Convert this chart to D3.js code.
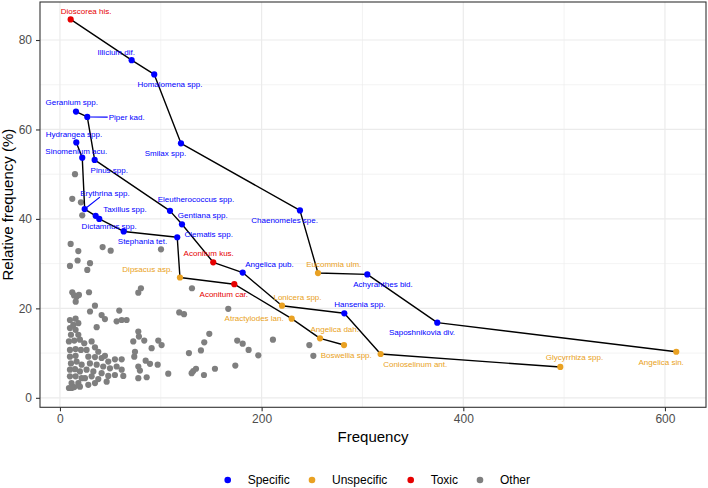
<!DOCTYPE html>
<html>
<head>
<meta charset="utf-8">
<script src="https://cdn.jsdelivr.net/npm/d3@7"></script>
<style>
  html, body { margin: 0; padding: 0; background: #fff; }
  svg { display: block; font-family: "Liberation Sans", Arial, Helvetica, sans-serif; }
</style>
</head>
<body>
<svg id="chart" width="708" height="488"></svg>
<script>
// ---------------- DATA ----------------
const labelNames = [
  "Dioscorea his.", "Illicium dif.", "Homalomena spp.", "Smilax spp.", "Chaenomeles spe.",
  "Eucommia ulm.", "Achyranthes bid.", "Saposhnikovia div.", "Angelica sin.",
  "Geranium spp.", "Piper kad.", "Pinus spp.", "Eleutherococcus spp.", "Gentiana spp.",
  "Aconitum kus.", "Angelica pub.", "Lonicera spp.", "Hansenia spp.", "Conioselinum ant.", "Glycyrrhiza spp.",
  "Hydrangea spp.", "Sinomenium acu.", "Erythrina spp.", "Taxillus spp.", "Dictamnus spp.",
  "Stephania tet.", "Clematis spp.", "Dipsacus asp.", "Aconitum car.", "Atractylodes lan.",
  "Angelica dah.", "Boswellia spp."
];
const labelFreq = [
  10.6, 71.1, 93.5, 120, 238, 255.9, 304.8, 374.2, 611.2,
  15.9, 27.1, 34.4, 109.1, 121, 152, 181.2, 220.2, 282, 318, 496.2,
  16.2, 22.1, 24.5, 35.4, 39, 63.2, 116.3, 119, 172.9, 229.8, 257.9, 281.7
];
const labelRel = [
  84.6, 75.5, 72.3, 56.9, 41.9, 27.9, 27.6, 16.8, 10.3,
  64.0, 62.8, 53.2, 41.8, 38.8, 30.3, 28.0, 20.6, 18.9, 9.8, 6.9,
  57.1, 53.7, 42.2, 40.7, 40.0, 37.2, 35.9, 26.9, 25.4, 17.7, 13.3, 11.8
];
const labelGroup = [
  "Toxic", "Specific", "Specific", "Specific", "Specific", "Unspecific", "Specific", "Specific", "Unspecific",
  "Specific", "Specific", "Specific", "Specific", "Specific", "Toxic", "Specific", "Unspecific", "Specific", "Unspecific", "Unspecific",
  "Specific", "Specific", "Specific", "Specific", "Specific", "Specific", "Specific", "Unspecific", "Toxic", "Unspecific", "Unspecific", "Unspecific"
];
// the three connected paths, in drawing order (by name)
const pathA = ["Dioscorea his.", "Illicium dif.", "Homalomena spp.", "Smilax spp.", "Chaenomeles spe.", "Eucommia ulm.", "Achyranthes bid.", "Saposhnikovia div.", "Angelica sin."];
const pathB = ["Geranium spp.", "Piper kad.", "Pinus spp.", "Eleutherococcus spp.", "Gentiana spp.", "Aconitum kus.", "Angelica pub.", "Lonicera spp.", "Hansenia spp.", "Conioselinum ant.", "Glycyrrhiza spp."];
const pathC = ["Hydrangea spp.", "Sinomenium acu.", "Erythrina spp.", "Taxillus spp.", "Dictamnus spp.", "Stephania tet.", "Clematis spp.", "Dipsacus asp.", "Aconitum car.", "Atractylodes lan.", "Angelica dah.", "Boswellia spp."];

// "Other" herbs
const otherFreq = [
  14.9, 12.2, 20.8, 22.1, 10.6, 18.2, 42.3, 50.3, 100.2, 17.5, 9.9, 29.8, 27.1,
  12.2, 16.5, 15.6, 18.8, 14.0, 28.8, 77.7, 80.3, 34.7, 29.8, 41.3, 44.6, 58.8, 56.2, 61.2, 66.1, 36.4,
  77.7, 78.3, 72.7, 83.6, 97.5, 100.8, 90.9, 74.4, 73.7, 85.0, 89.3, 77.7, 79.3, 96.9, 107.4, 77.7, 86.0,
  130.9, 118.3, 123.0, 166.9, 148.1, 143.1, 139.8, 127.9, 175.8, 181.2, 187.1, 196.7, 211.2, 247.3, 251.3, 173.9, 153.7, 134.9, 132.2, 130.6, 142.8,
  9.9, 15.5, 13.2, 18.2, 9.9, 15.5, 10.9, 18.2, 8.9, 14.2, 19.8, 9.9, 15.5, 20.8, 9.9, 15.5, 10.9, 16.5, 21.5, 9.9, 14.9, 19.8, 9.9, 15.5, 11.5, 8.9, 14.2, 18.2, 21.5, 11.6,
  24.1, 31.4, 34.7, 26.4, 38.0, 28.1, 34.7, 41.3, 44.6, 47.9, 54.5, 61.2, 29.7, 36.4, 42.9, 49.6, 56.2, 61.2, 26.4, 33.1, 41.3, 47.9, 54.5, 62.8, 24.8, 31.4, 38.0, 46.3, 28.1, 34.7, 19.8
];
const otherRel = [
  50.0, 44.5, 43.7, 40.8, 34.4, 32.8, 33.7, 32.9, 33.2, 30.7, 29.5, 30.1, 28.6,
  23.6, 22.6, 21.5, 23.0, 22.9, 23.6, 23.5, 24.5, 20.6, 19.3, 18.5, 17.6, 19.5, 17.1, 17.4, 17.4, 15.8,
  14.8, 13.7, 12.6, 12.8, 12.8, 11.8, 11.1, 10.3, 9.2, 8.3, 7.6, 7.0, 6.1, 7.4, 5.4, 4.4, 4.6,
  24.5, 19.1, 18.7, 19.9, 14.3, 12.4, 10.6, 10.0, 12.8, 12.1, 10.7, 9.5, 13.0, 11.8, 9.4, 7.2, 6.5, 6.5, 6.0, 5.5, 5.1,
  17.4, 17.7, 16.3, 16.7, 15.6, 15.2, 14.1, 14.1, 12.6, 12.8, 13.0, 10.7, 10.9, 10.7, 9.2, 9.4, 7.7, 8.1, 7.4, 6.3, 6.4, 5.9, 4.8, 4.8, 3.3, 2.2, 2.4, 3.3, 4.4, 2.2,
  12.2, 12.6, 11.3, 10.7, 10.3, 9.2, 9.1, 8.9, 9.4, 8.1, 8.6, 8.6, 7.7, 7.4, 7.0, 6.6, 7.0, 6.3, 6.3, 5.9, 5.5, 4.9, 5.1, 4.9, 4.4, 4.8, 4.2, 3.6, 2.9, 3.3, 2.5
];

const xTicks = [0, 200, 400, 600];
const xMinor = [100, 300, 500];
const yTicks = [0, 20, 40, 60, 80];
const yMinor = [10, 30, 50, 70];
const legendGroups = ["Specific", "Unspecific", "Toxic", "Other"];

// ---------------- LAYOUT (label placement, px offsets from point) ----------------
const labelDx = [
  15.5, -15.4, 15.7, -15.5, -15.3, 15.8, 15.7, -15.3, -15.1,
  -4.3, 39.4, 14.6, 26, 20.8, -4.5, 26.8, 15.5, 15.5, 34.6, 14.2,
  -2.3, -6, 20.3, 29.3, 9.9, 18.8, 31.5, -32.5, -10.5, -37.5, 14.7, 2.2
];
const labelDy = [
  -8.6, -8.3, 9.7, 10, 10, -9, 9.6, 9.7, 10,
  -9.7, 0.3, 10, -12, -9.3, -9, -8.4, -8.4, -9.3, 10.3, -9.3,
  -8.3, -6.7, -16, -6.4, 7, 10, -3.3, -8.4, 9.7, -0.7, -9, 9.7
];
const withSegment = ["Piper kad.", "Erythrina spp."];

// ---------------- STYLE ----------------
const colors = { Specific: "#0000FF", Unspecific: "#E9A122", Toxic: "#E60000", Other: "#7F7F7F" };
const panel = { left: 40, right: 706, top: 2, bottom: 407.3 };

const svg = d3.select("#chart");
const x = d3.scaleLinear().domain([-19.8, 640.7]).range([panel.left, panel.right]);
const y = d3.scaleLinear().domain([-2.12, 88.5]).range([panel.bottom, panel.top]);

// grid
const grid = svg.append("g");
grid.selectAll(".xminor").data(xMinor).join("line")
  .attr("x1", d => x(d)).attr("x2", d => x(d)).attr("y1", panel.top).attr("y2", panel.bottom)
  .attr("stroke", "#EBEBEB").attr("stroke-width", 0.6);
grid.selectAll(".yminor").data(yMinor).join("line")
  .attr("y1", d => y(d)).attr("y2", d => y(d)).attr("x1", panel.left).attr("x2", panel.right)
  .attr("stroke", "#EBEBEB").attr("stroke-width", 0.6);
grid.selectAll(".xmajor").data(xTicks).join("line")
  .attr("x1", d => x(d)).attr("x2", d => x(d)).attr("y1", panel.top).attr("y2", panel.bottom)
  .attr("stroke", "#EBEBEB").attr("stroke-width", 1.2);
grid.selectAll(".ymajor").data(yTicks).join("line")
  .attr("y1", d => y(d)).attr("y2", d => y(d)).attr("x1", panel.left).attr("x2", panel.right)
  .attr("stroke", "#EBEBEB").attr("stroke-width", 1.2);

// other points
const others = otherFreq.map((f, i) => ({ f, r: otherRel[i] }));
svg.append("g").selectAll("circle").data(others).join("circle")
  .attr("cx", d => x(d.f)).attr("cy", d => y(d.r)).attr("r", 3.1)
  .attr("fill", colors.Other);

// labelled herbs
const herbs = labelNames.map((n, i) => ({
  name: n, f: labelFreq[i], r: labelRel[i], g: labelGroup[i], dx: labelDx[i], dy: labelDy[i]
}));
const byName = new Map(herbs.map(d => [d.name, d]));

// paths
const line = d3.line().x(d => x(d.f)).y(d => y(d.r));
svg.append("g").selectAll("path").data([pathA, pathB, pathC]).join("path")
  .attr("d", p => line(p.map(n => byName.get(n))))
  .attr("fill", "none").attr("stroke", "#000").attr("stroke-width", 1.4)
  .attr("stroke-linejoin", "round");

// coloured points
svg.append("g").selectAll("circle").data(herbs).join("circle")
  .attr("cx", d => x(d.f)).attr("cy", d => y(d.r)).attr("r", 3.1)
  .attr("fill", d => colors[d.g]);

// labels
const lg = svg.append("g").attr("font-size", 8);
herbs.forEach(d => {
  const px = x(d.f), py = y(d.r);
  const tx = px + d.dx, ty = py + d.dy;
  const t = lg.append("text")
    .attr("x", tx).attr("y", ty).attr("dy", "0.35em")
    .attr("text-anchor", "middle").attr("fill", colors[d.g])
    .text(d.name);
  if (withSegment.includes(d.name)) {
    const bb = t.node().getBBox();
    const hw = bb.width / 2 + 1, hh = 4;
    const vx = tx - px, vy = ty - py;
    // clip the point->label-centre segment at the label box
    let tClip = 1;
    if (Math.abs(vx) > 0) tClip = Math.min(tClip, (Math.abs(vx) - hw) / Math.abs(vx));
    if (Math.abs(vy) > 0) tClip = Math.max(Math.min(1, (Math.abs(vy) - hh) / Math.abs(vy)), Math.abs(vx) > 0 ? (Math.abs(vx) - hw) / Math.abs(vx) : 0);
    const ex = px + vx * tClip, ey = py + vy * tClip;
    const len = Math.hypot(vx, vy);
    const sx = px + vx / len * 3, sy = py + vy / len * 3;
    lg.insert("line", "text").attr("x1", sx).attr("y1", sy).attr("x2", ex).attr("y2", ey)
      .attr("stroke", colors[d.g]).attr("stroke-width", 1.1);
  }
});

// panel border
svg.append("rect")
  .attr("x", panel.left).attr("y", panel.top)
  .attr("width", panel.right - panel.left).attr("height", panel.bottom - panel.top)
  .attr("fill", "none").attr("stroke", "#333333").attr("stroke-width", 1.1);

// axes
const xAxis = svg.append("g").attr("transform", `translate(0,${panel.bottom})`)
  .call(d3.axisBottom(x).tickValues(xTicks).tickSize(4).tickPadding(3).tickFormat(d3.format("d")));
const yAxis = svg.append("g").attr("transform", `translate(${panel.left},0)`)
  .call(d3.axisLeft(y).tickValues(yTicks).tickSize(4).tickPadding(4).tickFormat(d3.format("d")));
[xAxis, yAxis].forEach(a => {
  a.select(".domain").remove();
  a.selectAll(".tick line").attr("stroke", "#333333").attr("stroke-width", 1.1);
  a.selectAll(".tick text").attr("fill", "#4D4D4D").attr("font-size", 12)
    .attr("font-family", "Liberation Sans, Arial, sans-serif");
});

// axis titles
svg.append("text").attr("x", (panel.left + panel.right) / 2).attr("y", 437).attr("dy", "0.35em")
  .attr("text-anchor", "middle").attr("font-size", 15).attr("fill", "#000").text("Frequency");
svg.append("text").attr("transform", `translate(13.3,${(panel.top + panel.bottom) / 2}) rotate(-90)`)
  .attr("text-anchor", "middle").attr("font-size", 15).attr("fill", "#000").text("Relative frequency (%)");

// legend
const legX = [227.7, 312, 410.7, 480];
const leg = svg.append("g").attr("transform", "translate(0,480)");
legendGroups.forEach((g, i) => {
  leg.append("circle").attr("cx", legX[i]).attr("cy", 0).attr("r", 3.3).attr("fill", colors[g]);
  leg.append("text").attr("x", legX[i] + 20).attr("y", 0).attr("dy", "0.35em")
    .attr("font-size", 12).attr("fill", "#000").text(g);
});
</script>
</body>
</html>
